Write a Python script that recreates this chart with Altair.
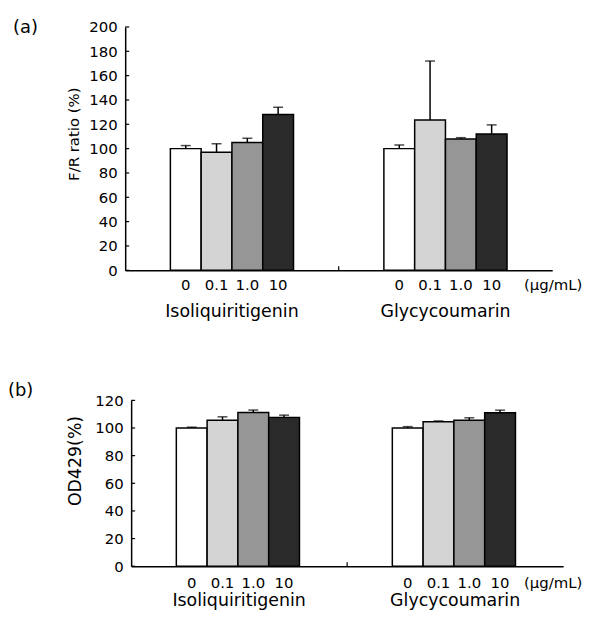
import altair as alt
import pandas as pd

groups = ["Isoliquiritigenin", "Glycycoumarin"]
concs = ["0", "0.1", "1.0", "10"]
fills = ["#ffffff", "#d4d4d4", "#969696", "#2a2a2a"]

# panel (a): F/R ratio (%)
a_iso = [100, 97, 105, 128]
a_iso_err = [2.5, 7, 3.5, 6]
a_gly = [100, 123.5, 108, 112]
a_gly_err = [3, 48.5, 1, 7.5]
a_ticks = [0, 20, 40, 60, 80, 100, 120, 140, 160, 180, 200]

# panel (b): OD429 (%)
b_iso = [100, 105.7, 111.3, 107.7]
b_iso_err = [0.6, 2.4, 1.7, 1.6]
b_gly = [100, 104.6, 105.7, 111]
b_gly_err = [1, 0.5, 1.7, 1.9]
b_ticks = [0, 20, 40, 60, 80, 100, 120]

FONT = "DejaVu Sans"


def make_df(iso, iso_err, gly, gly_err):
    rows = []
    for g, vals, errs in [(groups[0], iso, iso_err), (groups[1], gly, gly_err)]:
        for c, v, e in zip(concs, vals, errs):
            rows.append({"group": g, "conc": c, "value": v, "upper": v + e})
    return pd.DataFrame(rows)


def panel(df, ymax, ticks, w, h, xrange, orange, yoff, title, title_size, title_pad, title_y,
          label, label_x, label_y, conc_dy, name_dy, unit_x):
    xscale = alt.Scale(domain=groups, range=xrange, paddingInner=0, paddingOuter=0)
    xaxis = alt.Axis(labels=False, ticks=False, domain=True, title=None,
                     domainColor="black", domainWidth=1.5, grid=False)
    xo = alt.XOffset("conc:N", sort=concs,
                     scale=alt.Scale(domain=concs, range=orange, paddingInner=0, paddingOuter=0))
    yscale = alt.Scale(domain=[0, ymax], nice=False, zero=True)
    yaxis = alt.Axis(values=ticks, ticks=False, domain=True, domainColor="black",
                     domainWidth=1.5, grid=False, labelFont=FONT, labelFontSize=15,
                     labelColor="black", labelPadding=8, titleFont=FONT,
                     titleFontSize=title_size, titleFontWeight="normal",
                     titleColor="black", titlePadding=title_pad, titleY=title_y, offset=yoff)

    def X(**kw):
        return alt.X("group:N", sort=groups, scale=xscale, axis=xaxis, title=None, **kw)

    def Y(field):
        return alt.Y(field, scale=yscale, axis=yaxis, title=title)

    base = alt.Chart(df)
    bars = base.mark_bar(stroke="black", strokeWidth=1.5).encode(
        x=X(), xOffset=xo, y=Y("value:Q"),
        fill=alt.Fill("conc:N", sort=concs, scale=alt.Scale(domain=concs, range=fills), legend=None),
    )
    err = base.mark_rule(color="black", strokeWidth=1.5).encode(
        x=X(), xOffset=xo, y=Y("value:Q"), y2="upper:Q")
    caps = base.mark_tick(color="black", thickness=1.5, size=10).encode(
        x=X(), xOffset=xo, y=Y("upper:Q"))
    yticks = alt.Chart(pd.DataFrame({"value": ticks})).mark_rule(
        color="black", strokeWidth=1.2).encode(
        y=Y("value:Q"), x=alt.value(xrange[0]), x2=alt.value(xrange[0] + 4))
    midtick = alt.Chart(pd.DataFrame({"group": [groups[1]]})).mark_rule(
        color="black", strokeWidth=1.2).encode(
        x=X(bandPosition=0), y=alt.value(h), y2=alt.value(h - 4))
    conc_text = base.mark_text(font=FONT, fontSize=15, baseline="middle", color="black").encode(
        x=X(), xOffset=xo, y=alt.value(h + conc_dy), text="conc:N")
    names = alt.Chart(pd.DataFrame({"group": groups})).mark_text(
        font=FONT, fontSize=17.5, baseline="middle", color="black").encode(
        x=X(), y=alt.value(h + name_dy), text="group:N")
    unit = alt.Chart(pd.DataFrame({"k": [0]})).mark_text(
        font=FONT, fontSize=15, baseline="middle", color="black").encode(
        x=alt.value(unit_x), y=alt.value(h + conc_dy), text=alt.value("(µg/mL)"))
    lab = alt.Chart(pd.DataFrame({"k": [0]})).mark_text(
        font=FONT, fontSize=18, baseline="middle", align="left", color="black").encode(
        x=alt.value(label_x), y=alt.value(label_y), text=alt.value(label))
    return alt.layer(bars, err, caps, yticks, midtick, conc_text, names, unit, lab).properties(
        width=w, height=h)


pa = panel(make_df(a_iso, a_iso_err, a_gly, a_gly_err), 200, a_ticks, 430, 245, [0, 430],
           [45.5, 169.5], 0, "F/R ratio (%)", 15, 7, 107.5, "(a)", -113, 1, 14.5, 42, 431)
pb = panel(make_df(b_iso, b_iso_err, b_gly, b_gly_err), 120, b_ticks, 441, 167, [6, 441],
           [45.75, 171.75], -6, "OD429(%)", 17.5, 10, 60.5, "(b)", -118, -9, 17, 35.5, 431)

chart = alt.vconcat(pa, pb, spacing=131, bounds="flush").properties(
    padding={"left": 0, "top": 9, "right": 0, "bottom": 0},
    background="white",
).configure_view(stroke=None)

chart.save("out.html", embed_options={"renderer": "svg", "actions": False})
